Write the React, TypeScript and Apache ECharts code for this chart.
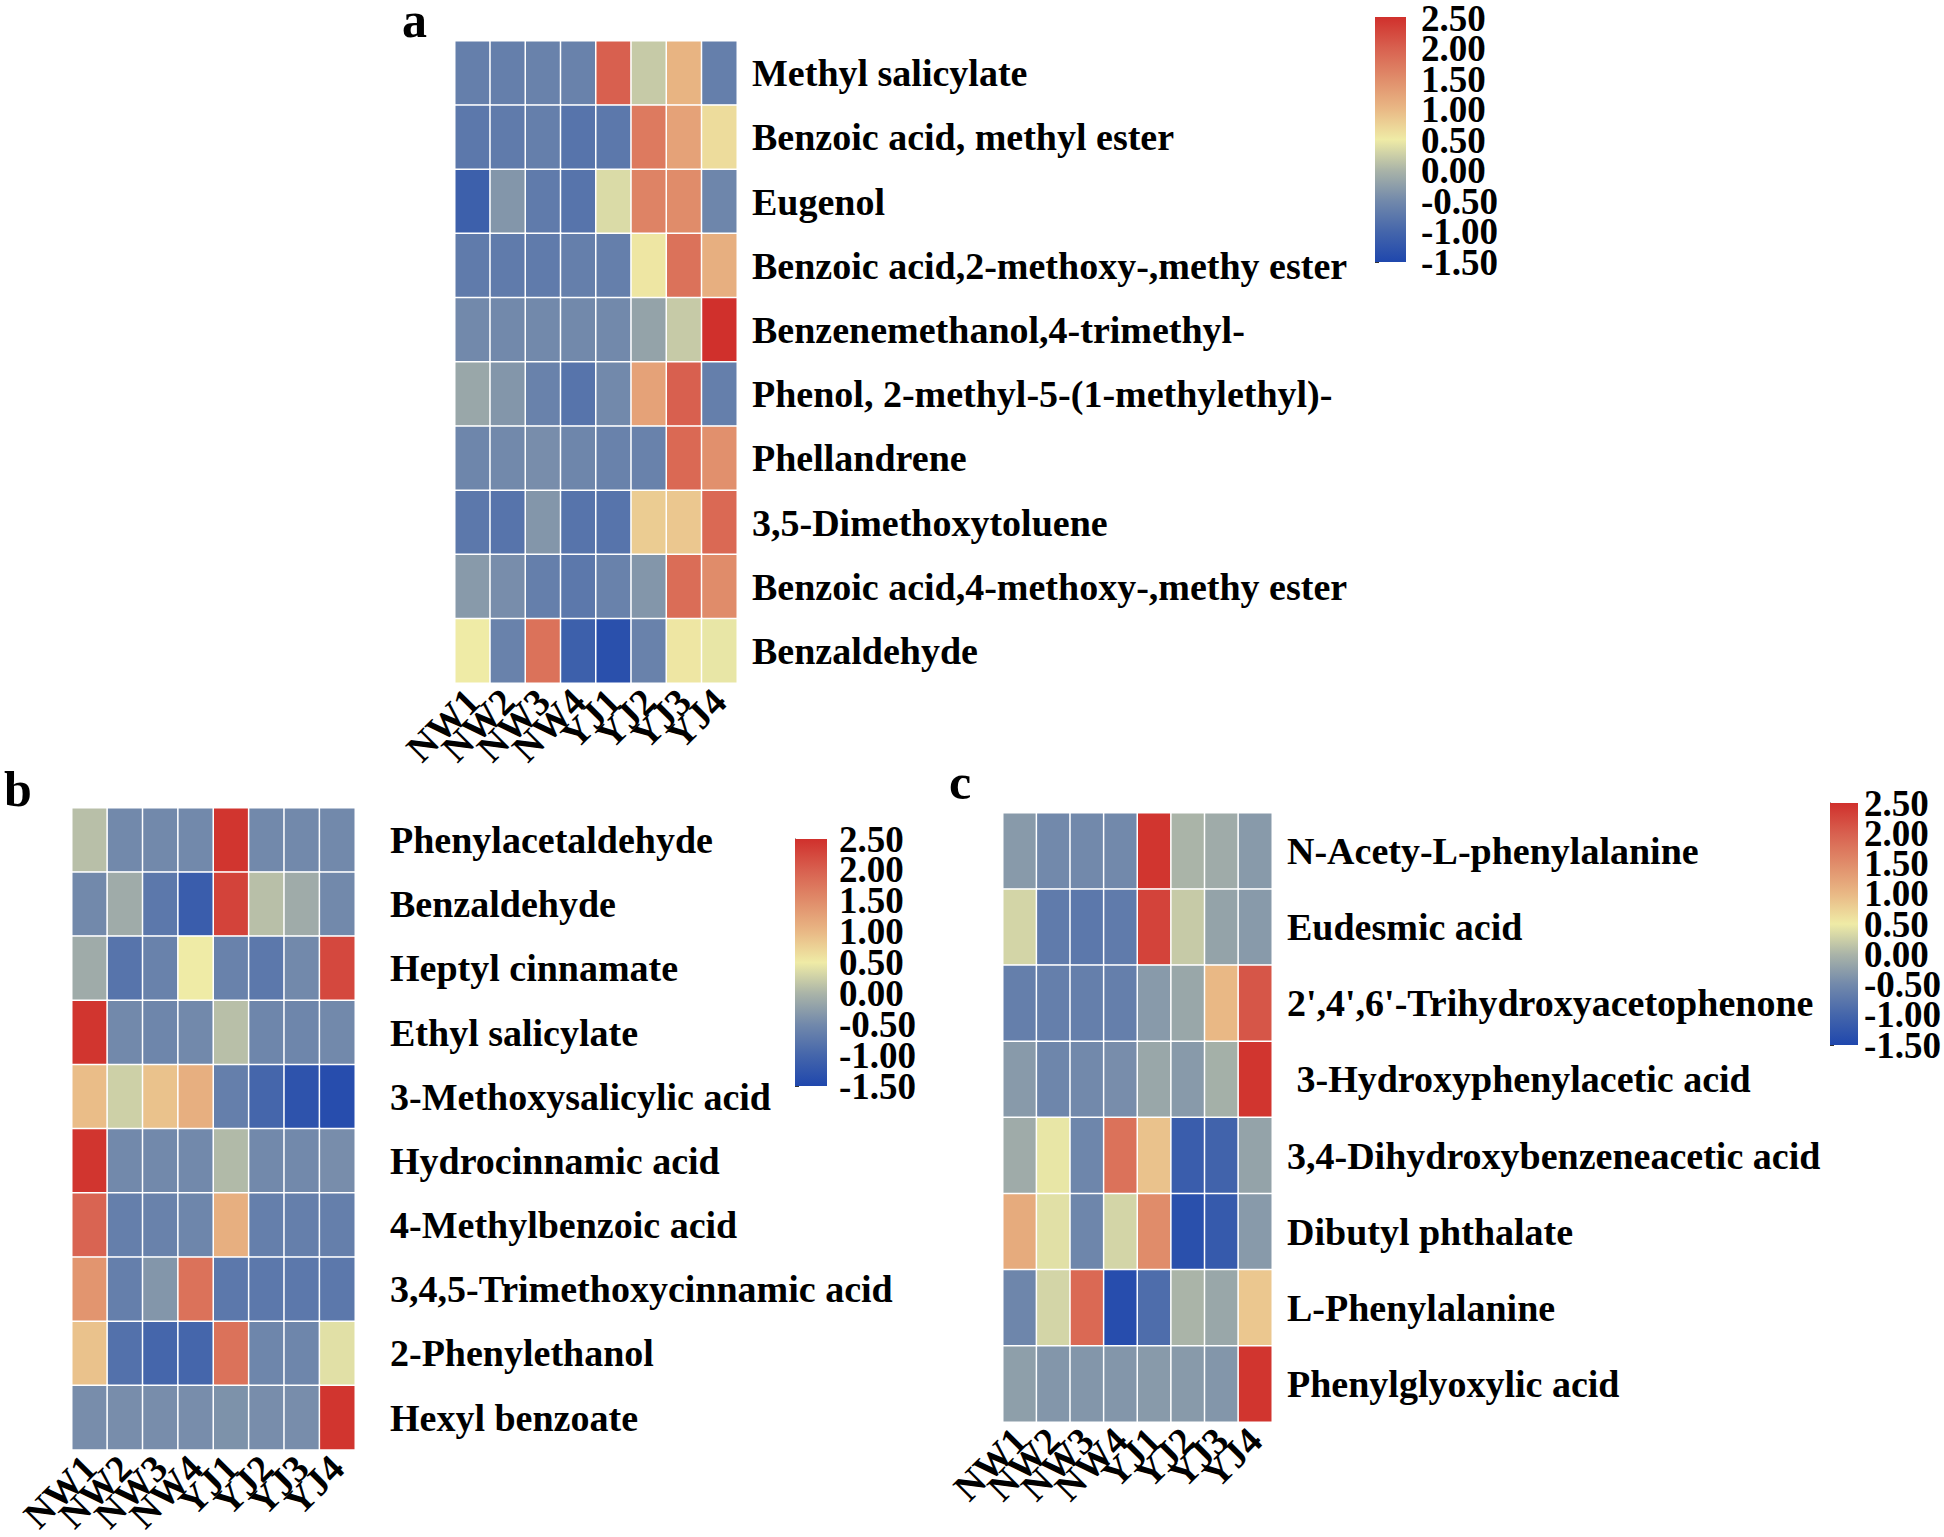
import React, { useEffect, useRef } from "react";
import * as echarts from "echarts";

const FONT = '"Liberation Serif", "Times New Roman", serif';

const samples = ["NW1", "NW2", "NW3", "NW4", "YJ1", "YJ2", "YJ3", "YJ4"];

const compoundsA = [
  "Methyl salicylate",
  "Benzoic acid, methyl ester",
  "Eugenol",
  "Benzoic acid,2-methoxy-,methy ester",
  "Benzenemethanol,4-trimethyl-",
  "Phenol, 2-methyl-5-(1-methylethyl)-",
  "Phellandrene",
  "3,5-Dimethoxytoluene",
  "Benzoic acid,4-methoxy-,methy ester",
  "Benzaldehyde",
];
const valuesA = [
  [-0.65, -0.65, -0.6, -0.6, 2.0, 0.2, 1.05, -0.65],
  [-0.75, -0.7, -0.65, -0.8, -0.75, 1.7, 1.25, 0.65],
  [-1.1, -0.35, -0.7, -0.8, 0.35, 1.6, 1.5, -0.55],
  [-0.7, -0.7, -0.7, -0.65, -0.65, 0.55, 1.8, 1.1],
  [-0.5, -0.5, -0.5, -0.5, -0.5, -0.2, 0.2, 2.5],
  [-0.15, -0.35, -0.6, -0.8, -0.5, 1.25, 2.0, -0.65],
  [-0.55, -0.5, -0.45, -0.55, -0.6, -0.6, 1.9, 1.45],
  [-0.75, -0.8, -0.35, -0.8, -0.8, 0.8, 0.85, 1.9],
  [-0.3, -0.45, -0.65, -0.75, -0.6, -0.35, 1.85, 1.5],
  [0.5, -0.6, 1.8, -1.1, -1.35, -0.6, 0.55, 0.45],
];

const compoundsB = [
  "Phenylacetaldehyde",
  "Benzaldehyde",
  "Heptyl cinnamate",
  "Ethyl salicylate",
  "3-Methoxysalicylic acid",
  "Hydrocinnamic acid",
  "4-Methylbenzoic acid",
  "3,4,5-Trimethoxycinnamic acid",
  "2-Phenylethanol",
  "Hexyl benzoate",
];
const valuesB = [
  [0.1, -0.5, -0.5, -0.5, 2.45, -0.5, -0.5, -0.5],
  [-0.5, -0.1, -0.75, -1.15, 2.3, 0.1, -0.1, -0.5],
  [-0.1, -0.8, -0.6, 0.5, -0.6, -0.75, -0.5, 2.25],
  [2.45, -0.5, -0.55, -0.5, 0.1, -0.55, -0.55, -0.5],
  [0.95, 0.25, 0.9, 1.1, -0.65, -1.0, -1.3, -1.4],
  [2.45, -0.5, -0.5, -0.5, 0.05, -0.5, -0.5, -0.45],
  [1.95, -0.65, -0.6, -0.55, 1.1, -0.65, -0.65, -0.65],
  [1.4, -0.65, -0.35, 1.8, -0.75, -0.75, -0.75, -0.75],
  [0.9, -0.85, -1.0, -1.0, 1.8, -0.55, -0.55, 0.4],
  [-0.45, -0.45, -0.45, -0.45, -0.4, -0.45, -0.45, 2.45],
];

const compoundsC = [
  "N-Acety-L-phenylalanine",
  "Eudesmic acid",
  "2',4',6'-Trihydroxyacetophenone",
  " 3-Hydroxyphenylacetic acid",
  "3,4-Dihydroxybenzeneacetic acid",
  "Dibutyl phthalate",
  "L-Phenylalanine",
  "Phenylglyoxylic acid",
];
const valuesC = [
  [-0.3, -0.5, -0.5, -0.5, 2.45, 0.0, -0.1, -0.3],
  [0.3, -0.7, -0.75, -0.7, 2.3, 0.2, -0.2, -0.3],
  [-0.65, -0.65, -0.65, -0.65, -0.3, -0.15, 1.0, 2.1],
  [-0.3, -0.55, -0.5, -0.45, -0.15, -0.3, -0.05, 2.45],
  [-0.1, 0.45, -0.55, 1.8, 0.9, -1.15, -1.05, -0.2],
  [1.15, 0.4, -0.55, 0.3, 1.5, -1.35, -1.2, -0.3],
  [-0.55, 0.3, 1.9, -1.4, -0.9, 0.0, -0.15, 0.85],
  [-0.25, -0.35, -0.35, -0.35, -0.3, -0.3, -0.35, 2.45],
];

const scaleMin = -1.5;
const scaleMax = 2.5;
const scaleTickLabels = ["-1.50", "-1.00", "-0.50", "0.00", "0.50", "1.00", "1.50", "2.00", "2.50"];
const scaleColors = [
  "#1f47ad",
  "#4566ab",
  "#7289ab",
  "#aab4a8",
  "#efeba6",
  "#e9b885",
  "#e08c6a",
  "#d8604f",
  "#d0302c",
];

const panelLetters = ["a", "b", "c"];

function toCells(rows: number[][]) {
  const out: [number, number, number][] = [];
  rows.forEach((row, yi) => row.forEach((v, xi) => out.push([xi, yi, v])));
  return out;
}

export default function App() {
  const ref = useRef<HTMLDivElement>(null);
  useEffect(() => {
    if (!ref.current) return;
    const chart = echarts.init(ref.current, undefined, { renderer: "svg" });

    const heatGrids = [
      { left: 455, top: 41, width: 282, height: 642 },
      { left: 72, top: 808, width: 283, height: 651 },
      { left: 1003, top: 813, width: 269, height: 609 },
    ];
    const barGrids = [
      { left: 1375, top: 17, width: 31, height: 245 },
      { left: 795, top: 839, width: 32, height: 247 },
      { left: 1830, top: 803, width: 28, height: 242 },
    ];
    const labelMargins = [15, 35, 15];
    const barLabelMargins = [15, 12, 6];
    const compounds = [compoundsA, compoundsB, compoundsC];
    const values = [valuesA, valuesB, valuesC];

    const textBase = { fontFamily: FONT, fontWeight: "bold" as const, color: "#000" };

    const xAxis: any[] = [];
    const yAxis: any[] = [];
    heatGrids.forEach((_, i) => {
      xAxis.push({
        type: "category",
        gridIndex: i,
        data: samples,
        axisLine: { show: false },
        axisTick: { show: false },
        splitLine: { show: false },
        axisLabel: { ...textBase, rotate: 45, fontSize: 38, margin: 12, interval: 0 },
      });
      yAxis.push({
        type: "category",
        gridIndex: i,
        data: compounds[i],
        inverse: true,
        position: "right",
        axisLine: { show: false },
        axisTick: { show: false },
        splitLine: { show: false },
        axisLabel: { ...textBase, fontSize: 38, margin: labelMargins[i], interval: 0 },
      });
    });
    barGrids.forEach((_, i) => {
      xAxis.push({ type: "value", gridIndex: 3 + i, show: false });
      yAxis.push({
        type: "category",
        gridIndex: 3 + i,
        data: scaleTickLabels,
        boundaryGap: false,
        position: "right",
        splitLine: { show: false },
        axisLine: { show: true, lineStyle: { color: "#333", width: 1 } },
        axisTick: { show: true, length: 4, interval: 0, lineStyle: { color: "#333" } },
        axisLabel: {
          ...textBase,
          fontSize: 37,
          margin: barLabelMargins[i],
          interval: 0,
        },
      });
    });

    const stops = scaleColors
      .map((c, i) => ({ offset: 1 - i / (scaleColors.length - 1), color: c }))
      .reverse();

    const graphic: any[] = barGrids.map((g) => ({
      type: "rect",
      shape: { x: g.left, y: g.top, width: g.width, height: g.height },
      style: { fill: new echarts.graphic.LinearGradient(0, 0, 0, 1, stops) },
      z: 1,
    }));
    const letterPos = [
      { x: 402, y: 20 },
      { x: 4, y: 789 },
      { x: 949, y: 782 },
    ];
    panelLetters.forEach((l, i) => {
      graphic.push({
        type: "text",
        x: letterPos[i].x,
        y: letterPos[i].y,
        style: {
          text: l,
          font: `bold 50px ${FONT}`,
          fill: "#000",
          textAlign: "left",
          textVerticalAlign: "middle",
        },
      });
    });

    chart.setOption({
      animation: false,
      backgroundColor: "#fff",
      grid: [...heatGrids, ...barGrids],
      xAxis,
      yAxis,
      visualMap: {
        type: "continuous",
        min: scaleMin,
        max: scaleMax,
        show: false,
        seriesIndex: [0, 1, 2],
        inRange: { color: scaleColors },
      },
      graphic,
      series: values.map((rows, i) => ({
        type: "heatmap",
        xAxisIndex: i,
        yAxisIndex: i,
        data: toCells(rows),
        itemStyle: { borderColor: "#fff", borderWidth: 1.5 },
        emphasis: { disabled: true },
      })),
    });
    return () => chart.dispose();
  }, []);
  return (
    <div
      ref={ref}
      style={{ position: "absolute", left: 0, top: 0, width: 1944, height: 1537 }}
    />
  );
}
